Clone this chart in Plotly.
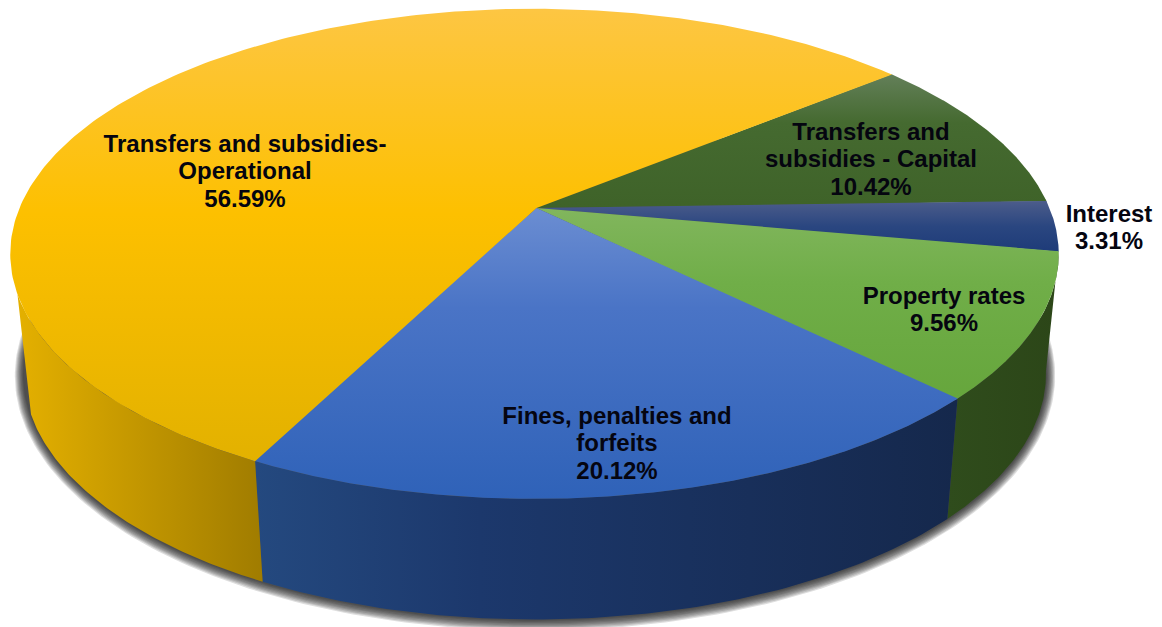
import numpy as np
import plotly.graph_objects as go

# Revenue shares, clockwise from the top-right edge of the capital transfers slice
categories = [
    "Transfers and|subsidies - Capital",
    "Interest",
    "Property rates",
    "Fines, penalties and|forfeits",
    "Transfers and subsidies-|Operational",
]
shares = [10.42, 3.31, 9.56, 20.12, 56.59]
value_labels = ["10.42%", "3.31%", "9.56%", "20.12%", "56.59%"]

# Vertical shading of each top face: (start y, stop y, colours from light to dark)
top_shades = [
    (73, 215, [[0, "#64805a"], [0.35, "#456a30"], [1, "#3e6228"]]),
    (198, 255, [[0, "#505f8c"], [0.5, "#2a4680"], [1, "#1c3a78"]]),
    (205, 400, [[0, "#82b65e"], [0.4, "#70ae48"], [1, "#66a63c"]]),
    (205, 500, [[0, "#6c8ed2"], [0.35, "#4a74c6"], [1, "#2f62b8"]]),
    (8, 465, [[0, "#fdc643"], [0.45, "#fdc000"], [1, "#e2b100"]]),
]
# Horizontal shading of each outer wall, left to right
wall_shades = [
    [[0, "#3a5a20"], [1, "#3a5a20"]],
    [[0, "#1c3a78"], [1, "#1c3a78"]],
    [[0, "#2f4c1c"], [1, "#2c4618"]],
    [[0, "#24497f"], [0.32, "#1c386c"], [1, "#15284c"]],
    [[0, "#e4b000"], [1, "#a07c00"]],
]
# Centre of the first line of each label
label_anchors = [(871, 134), (1109, 216), (944, 298), (617, 418), (245, 146)]
LINE_STEP = 27.3

# Projection of the disc: a perspective view of a unit circle
START_ANGLE = 39.4
TOP = dict(cx=534.5, cy=208.0, a=515.0, b=236.5, k=0.187)
BOTTOM = dict(cx=535.0, cy=328.0, a=502.0, b=237.0, k=0.187)
WALL_WINDOW = (-160.0, -10.0)
FONT = "Liberation Sans, Arial, sans-serif"


def project(deg, view, grow=0.0):
    t = np.radians(deg)
    u, v = np.cos(t), -np.sin(t)
    w = 1 - view["k"] * v
    return (
        view["cx"] + (view["a"] + grow) * u / w,
        view["cy"] + (view["b"] + grow) * v / w,
    )


# Slice boundaries in degrees, sweeping clockwise
edges = START_ANGLE - np.cumsum([0] + shares) * 3.6
fig = go.Figure()

# Soft drop shadow: stacked translucent outlines of the lower rim
full_circle = np.linspace(0, 360, 361)
for grow in np.arange(9, 0, -1):
    x, y = project(full_circle, BOTTOM, grow)
    fig.add_trace(go.Scatter(x=x, y=y, mode="lines", line_width=0, fill="toself",
                             fillcolor="rgba(20,20,20,0.14)", hoverinfo="skip"))

# Outer walls, only where they face the viewer
for i in range(len(shares)):
    hi = min(edges[i], WALL_WINDOW[1])
    lo = max(edges[i + 1], WALL_WINDOW[0])
    if hi <= lo:
        continue
    arc = np.linspace(hi, lo, 90)
    xt, yt = project(arc, TOP)
    xb, yb = project(arc[::-1], BOTTOM)
    x, y = np.r_[xt, xb], np.r_[yt, yb]
    fig.add_trace(go.Scatter(
        x=x, y=y, mode="lines", line_width=0, fill="toself", hoverinfo="skip",
        fillgradient=dict(type="horizontal", start=float(x.min()), stop=float(x.max()),
                          colorscale=wall_shades[i]),
    ))

# Top faces; each one runs slightly under its neighbour so no seam shows
for i in range(len(shares)):
    arc = np.linspace(edges[i], edges[i + 1] - 0.3, 240)
    xa, ya = project(arc, TOP)
    x = np.r_[TOP["cx"] + 2, xa, TOP["cx"] + 2]
    y = np.r_[TOP["cy"], ya, TOP["cy"]]
    y0, y1, scale = top_shades[i]
    fig.add_trace(go.Scatter(
        x=x, y=y, mode="lines", line_width=0, fill="toself", hoverinfo="skip",
        fillgradient=dict(type="vertical", start=y0, stop=y1, colorscale=scale),
    ))

# Slice labels, one text mark per line
xs, ys, texts = [], [], []
for (ax, ay), cat, val in zip(label_anchors, categories, value_labels):
    for n, line in enumerate(cat.split("|") + [val]):
        xs.append(ax)
        ys.append(ay + n * LINE_STEP)
        texts.append(line)
fig.add_trace(go.Scatter(
    x=xs, y=ys, mode="text", text=texts, textposition="middle center",
    textfont=dict(family=FONT, size=24, color="#050510", weight="bold"),
    hoverinfo="skip",
))

fig.update_layout(
    width=1162, height=627, margin=dict(l=0, r=0, t=0, b=0),
    paper_bgcolor="white", plot_bgcolor="white", showlegend=False,
    xaxis=dict(range=[0, 1162], visible=False, fixedrange=True),
    yaxis=dict(range=[627, 0], visible=False, fixedrange=True),
)
fig.write_html("out.html", config={"displayModeBar": False})
